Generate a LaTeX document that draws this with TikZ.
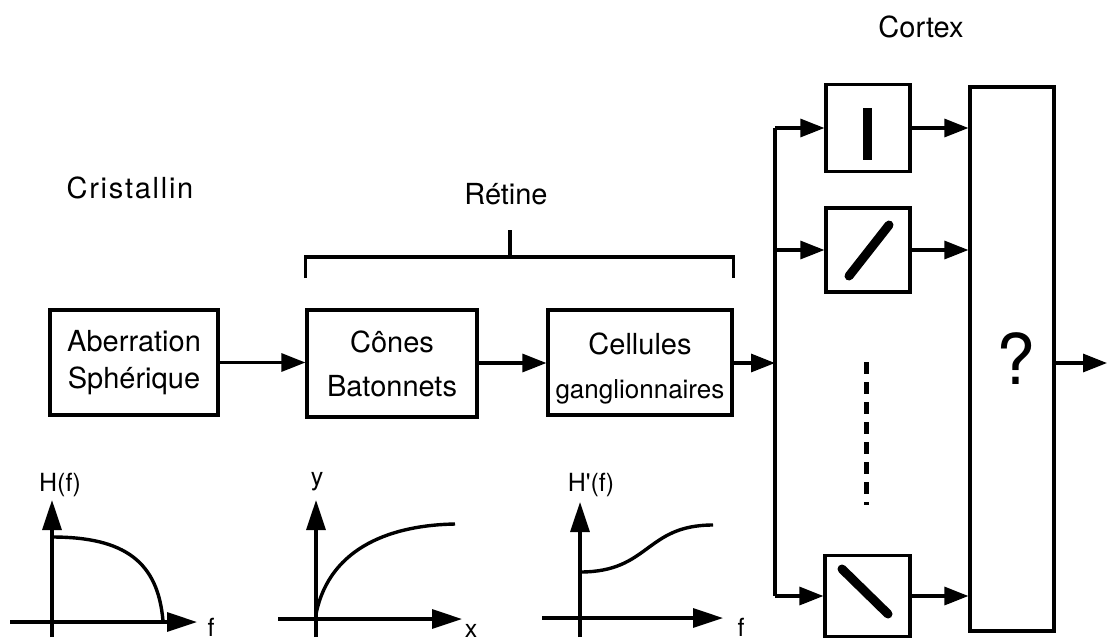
\documentclass[tikz,border=0pt]{standalone}
\usepackage{fontspec}
\setmainfont{TeX Gyre Heros}
\newfontfamily\rawheros{TeX Gyre Heros}
\usetikzlibrary{arrows.meta}
\begin{document}
\begin{tikzpicture}[x=1pt,y=-1pt,
  box/.style={draw,line width=3.2pt,inner sep=0pt,align=center},
  txt/.style={inner sep=0pt,align=center},
  ln/.style={line width=3.2pt},
  arr/.style={line width=3.2pt,-{Triangle[length=24pt,width=18pt]}},
  axis/.style={line width=3.2pt,-{Triangle[length=30pt,width=19pt]}},
  curve/.style={line width=3.4pt},
  title/.style={font=\fontsize{29}{34}\selectfont},
  axl/.style={font=\fontsize{25}{28}\selectfont},
  bar/.style={line width=9pt}]
\useasboundingbox (0,0) rectangle (1107,641);

% titles
\node[title] (cris) at (130,188) {\addfontfeature{LetterSpace=6}Cristallin};
\node[title] (ret) at (506,194) {Rétine};
\node[title] (cor) at (921,27) {Cortex};

% main boxes
\node[box,minimum width=168,minimum height=105,font=\fontsize{29}{37}\selectfont] (ab) at (134,362.5) {Aberration\\Sphérique};
\node[box,minimum width=170,minimum height=107,font=\fontsize{29}{44}\selectfont] (cb) at (392,363.5) {Cônes\\Batonnets};
\node[box,minimum width=184,minimum height=105] (cg) at (640,362.5) {};
\node[txt,font=\fontsize{29}{44}\selectfont] (cgt) at ([yshift=-6pt]cg.center) {Cellules\\{\fontsize{26}{44}\selectfont ganglionnaires}};

% bracket for Retine
\draw[ln] (cb.west |- 0,278) -- (cb.west |- 0,257) -- (cg.east |- 0,257) -- (cg.east |- 0,278);
\draw[ln] (510,257) -- (510,230);

% connectors
\draw[arr] (ab.east) -- (ab.east -| cb.west);
\draw[arr] (cb.east |- 0,363) -- (cg.west |- 0,363);

% cortex
\coordinate (bm) at (775,363);
\coordinate (bt) at (775,128);
\coordinate (b2) at (775,250);
\coordinate (bb) at (775,596);
\node[box,minimum width=84,minimum height=87] (o1) at (868,128) {};
\node[box,minimum width=84,minimum height=84] (o2) at (868,250) {};
\node[box,minimum width=85,minimum height=81] (o3) at (867.5,596) {};
\node[box,minimum width=84,minimum height=544,font=\fontsize{70}{70}\selectfont] (q) at (1012,359) {\hspace*{8pt}?};
\coordinate (out) at (1107,363);

\draw[arr] (cg.east |- bm) -- (bm);
\draw[ln] (bt) -- (bb);
\draw[arr] (bt) -- (o1.west);
\draw[arr] (b2) -- (o2.west);
\draw[arr] (bb) -- (o3.west);
\draw[arr] (o1.east) -- (o1.east -| q.west);
\draw[arr] (o2.east) -- (o2.east -| q.west);
\draw[arr] (o3.east) -- (o3.east -| q.west);
\draw[arr] (q.east |- out) -- (out);

% orientation bars
\draw[bar] (867,108) -- (867,160);
\draw[bar,line cap=round] (849,276) -- (889,225);
\draw[bar,line cap=round] (842,569) -- (888,614);
\draw[line width=5pt,dash pattern=on 12pt off 8pt] (866,362) -- (866,505);

% graph 1: H(f)
\draw[axis] (52,637) -- (52,500);
\draw[axis] (10,622) -- (197,622);
\draw[curve] (52,537) .. controls (125,537) and (158,562) .. (163,621);
\node[axl] (h1) at (60,485) {H(f)};
\node[axl] (f1) at (211,627) {f};

% graph 2: y(x)
\draw[axis] (316,637) -- (316,500);
\draw[axis] (278,619) -- (462,619);
\draw[curve] (316,614) .. controls (330,545) and (395,525) .. (455,524);
\node[axl] (ylab) at (317,482) {y};
\node[axl] (xlab) at (471,631) {x};

% graph 3: H'(f)
\draw[axis] (580,637) -- (580,502);
\draw[axis] (542,618) -- (723,618);
\draw[curve] (580,572) .. controls (650,572) and (645,525) .. (713,525);
\node[axl] (h3) at (591,485) {H{\rawheros '}(f)};
\node[axl] (f3) at (741,627) {f};
\end{tikzpicture}
\end{document}
